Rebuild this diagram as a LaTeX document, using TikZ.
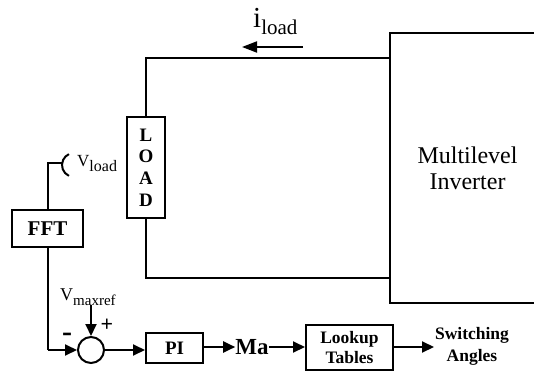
\documentclass[tikz,border=0pt]{standalone}
\usepackage{fontspec}
\setmainfont{Liberation Serif}
\usetikzlibrary{arrows.meta}
\begin{document}
\begin{tikzpicture}[x=1pt,y=-1pt,
  wire/.style={line width=2pt},
  arr/.style={wire,-{Triangle[length=12pt,width=11pt]}},
  blk/.style={draw,line width=2pt,rectangle,inner sep=0pt,font=\bfseries},
  lbl/.style={inner sep=0pt},
]
\useasboundingbox (0,0) rectangle (534,371);
% Multilevel inverter
\node[draw,line width=2pt,minimum width=155pt,minimum height=270pt,inner sep=0pt,align=center,
      font=\fontsize{24}{26}\selectfont] (inv) at (467.5,168) {Multilevel\\Inverter};
% Load
\node[blk,minimum width=38pt,minimum height=101pt,align=center,
      font=\bfseries\fontsize{19}{21.7}\selectfont] (load) at (146,167.5) {L\\O\\A\\D};
\coordinate (tl) at (146,58);
\coordinate (bl) at (146,278);
\draw[wire] (load.north) -- (tl) -- (tl -| inv.west);
\draw[wire] (load.south) -- (bl) -- (bl -| inv.west);
% load current
\coordinate (ia) at (303,47);
\coordinate (ib) at (242,47);
\draw[wire,-{Triangle[length=15pt,width=11pt]}] (ia) -- (ib);
\node[lbl,anchor=base west] (il) at (253,28) {\fontsize{29}{29}\selectfont i\raisebox{-7pt}{\fontsize{21}{21}\selectfont load}};
% FFT and voltage sensor
\node[blk,minimum width=71pt,minimum height=37pt,font=\bfseries\fontsize{21}{21}\selectfont] (fft) at (47.5,228.5) {FFT};
\coordinate (s1) at (47.5,163);
\coordinate (s2) at (62,163);
\draw[wire] (fft.north) -- (s1) -- (s2);
\draw[wire] (74,165) ++(115:12) arc[start angle=115,end angle=245,radius=12];
\node[lbl,anchor=base west] (vl) at (77,167) {\fontsize{17}{17}\selectfont V\raisebox{-5pt}{\fontsize{16}{16}\selectfont load}};
% summing junction
\node[draw,circle,line width=2pt,minimum size=26pt,inner sep=0pt] (sum) at (91,350) {};
\coordinate (fb) at (47.5,350);
\draw[wire] (fft.south) -- (fb);
\draw[arr] (fb) -- (sum.west);
\coordinate (vr) at (91,305);
\draw[arr] (vr) -- (sum.north);
\node[lbl,anchor=base west] (vm) at (60,300) {\fontsize{18}{18}\selectfont V\raisebox{-5pt}{\fontsize{15}{15}\selectfont maxref}};
\node[lbl,font=\bfseries\fontsize{22}{22}\selectfont] (plus) at (107,325) {+};
\node[lbl,font=\bfseries\fontsize{30}{30}\selectfont] (minus) at (67,337) {-};
% PI
\node[blk,minimum width=57pt,minimum height=30pt,font=\bfseries\fontsize{19}{19}\selectfont] (pi) at (174.5,348) {PI};
\draw[arr] (sum.east) -- (sum.east -| pi.west);
% Ma
\node[lbl,font=\bfseries\fontsize{23}{23}\selectfont] (ma) at (252,347) {Ma};
\draw[arr] (pi.east |- ma) -- (ma.west);
% Lookup tables
\node[blk,minimum width=87pt,minimum height=45pt,align=center,
      font=\bfseries\fontsize{17.5}{20}\selectfont] (lut) at (349.5,347.5) {Lookup\\Tables};
\draw[arr] (ma.east) -- (ma.east -| lut.west);
% Switching angles
\node[lbl,align=center,font=\bfseries\fontsize{17.5}{22}\selectfont] (sw) at (472,346) {Switching\\Angles};
\coordinate (swin) at (434,347);
\draw[arr] (lut.east |- swin) -- (swin);
\end{tikzpicture}
\end{document}
